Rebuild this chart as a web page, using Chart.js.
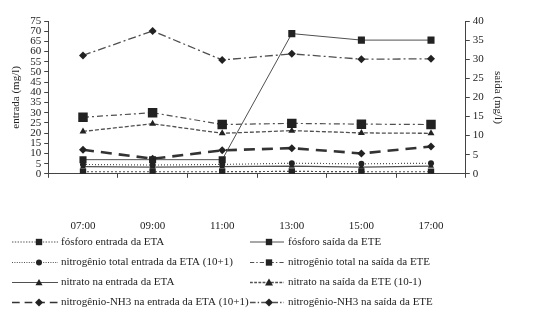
<!DOCTYPE html>
<html>
<head>
<meta charset="utf-8">
<script src="https://cdn.jsdelivr.net/npm/chart.js@4/dist/chart.umd.min.js"></script>
<style>
  html, body { margin: 0; padding: 0; background: #fff; }
  #wrap { width: 540px; height: 327px; }
</style>
</head>
<body>
<div id="wrap"><canvas id="grafico" width="540" height="327"></canvas></div>
<script>
        const horas = ['07:00', '09:00', '11:00', '13:00', '15:00', '17:00'];

        // eixo esquerdo (entrada, mg/l)
        const fosforoEntrada = [1.0, 1.0, 1.0, 1.2, 1.0, 1.0];
        const nitrogenioTotalEntrada = [4.6, 4.3, 4.6, 5.2, 4.9, 5.2];
        const nitratoEntrada = [3.5, 3.3, 3.5, 3.8, 3.3, 3.8];
        const nh3Entrada = [11.8, 7.4, 11.5, 12.6, 10.0, 13.4];

        // eixo direito (saida, mg/l)
        const fosforoSaida = [3.7, 3.7, 3.7, 36.7, 35.0, 35.0];
        const nitrogenioTotalSaida = [14.8, 16.0, 12.9, 13.2, 13.0, 12.9];
        const nitratoSaida = [11.1, 13.1, 10.6, 11.3, 10.7, 10.6];
        const nh3Saida = [31.0, 37.4, 29.8, 31.4, 30.0, 30.1];

        const ticksEntrada = [0, 5, 10, 15, 20, 25, 30, 35, 40, 45, 50, 55, 60, 65, 70, 75];
        const ticksSaida = [0, 5, 10, 15, 20, 25, 30, 35, 40];

        const fonte = "'Liberation Serif', 'DejaVu Serif', serif";
        const linha = '#505050';
        const marca = '#222';

        const series = [
            { label: 'fósforo entrada da ETA', data: fosforoEntrada, yAxisID: 'y', dash: [2, 2], width: 1.2, style: 'rect', r: 4.5, cor: linha },
            { label: 'fósforo saída da ETE', data: fosforoSaida, yAxisID: 'y1', dash: [], width: 1, style: 'rect', r: 5, cor: linha },
            { label: 'nitrogênio total entrada da ETA (10+1)', data: nitrogenioTotalEntrada, yAxisID: 'y', dash: [1, 2], width: 1.2, style: 'circle', r: 3, cor: linha },
            { label: 'nitrogênio total na saída da ETE', data: nitrogenioTotalSaida, yAxisID: 'y1', dash: [6, 3, 2, 3], width: 1.2, style: 'rect', r: 6.7, cor: linha },
            { label: 'nitrato na entrada da ETA', data: nitratoEntrada, yAxisID: 'y', dash: [], width: 1.2, style: 'triangle', r: 3.5, cor: linha },
            { label: 'nitrato na saída da ETE (10-1)', data: nitratoSaida, yAxisID: 'y1', dash: [4, 2], width: 1.3, style: 'triangle', r: 4, cor: linha },
            { label: 'nitrogênio-NH3 na entrada da ETA (10+1)', data: nh3Entrada, yAxisID: 'y', dash: [11, 7], width: 2.6, style: 'rectRot', r: 4, cor: '#333' },
            { label: 'nitrogênio-NH3 na saída da ETE', data: nh3Saida, yAxisID: 'y1', dash: [8, 3, 2, 3], width: 1.3, style: 'rectRot', r: 4, cor: linha }
        ];

        // desenha o marcador da legenda
        function marcador(ctx, estilo, x, y, r) {
            ctx.beginPath();
            if (estilo === 'rect') {
                const s = r * Math.SQRT1_2;
                ctx.rect(x - s, y - s, 2 * s, 2 * s);
            } else if (estilo === 'circle') {
                ctx.arc(x, y, r, 0, Math.PI * 2);
            } else if (estilo === 'triangle') {
                ctx.moveTo(x, y - r);
                ctx.lineTo(x + r, y + r * 0.75);
                ctx.lineTo(x - r, y + r * 0.75);
                ctx.closePath();
            } else {
                ctx.moveTo(x, y - r);
                ctx.lineTo(x + r, y);
                ctx.lineTo(x, y + r);
                ctx.lineTo(x - r, y);
                ctx.closePath();
            }
            ctx.fill();
        }

        const legendaColunas = {
            id: 'legendaColunas',
            afterDraw(chart) {
                const ctx = chart.ctx;
                const linhasY = [242, 262.5, 282.5, 302.5];
                const colunas = [
                    { x0: 12, x1: 58, m: 39, tx: 61 },
                    { x0: 250, x1: 284, m: 269, tx: 288 }
                ];
                ctx.save();
                chart.data.datasets.forEach(function(ds, i) {
                    const c = colunas[i % 2];
                    const y = linhasY[Math.floor(i / 2)];
                    ctx.strokeStyle = ds.borderColor;
                    ctx.lineWidth = Math.min(ds.borderWidth, 1.6);
                    ctx.setLineDash(ds.borderDash.length ? ds.borderDash.map(v => Math.max(1, v * 0.7)) : []);
                    ctx.beginPath();
                    ctx.moveTo(c.x0, y);
                    ctx.lineTo(c.x1, y);
                    ctx.stroke();
                    ctx.setLineDash([]);
                    ctx.fillStyle = marca;
                    marcador(ctx, ds.pointStyle, c.m, y, Math.min(ds.pointRadius, 4.5));
                    ctx.fillStyle = '#222';
                    ctx.font = '11px ' + fonte;
                    ctx.textBaseline = 'middle';
                    ctx.textAlign = 'left';
                    ctx.fillText(ds.label, c.tx, y);
                });
                ctx.restore();
            }
        };

        const graficoCtx = document.getElementById('grafico').getContext('2d');
        new Chart(graficoCtx, {
            type: 'line',
            data: {
                labels: horas,
                datasets: series.map(function(s) {
                    return {
                        label: s.label,
                        data: s.data,
                        yAxisID: s.yAxisID,
                        borderColor: s.cor,
                        borderWidth: s.width,
                        borderDash: s.dash,
                        fill: false,
                        tension: 0,
                        pointStyle: s.style,
                        pointRadius: s.r,
                        pointBackgroundColor: marca,
                        pointBorderColor: marca,
                        pointBorderWidth: 0
                    };
                })
            },
            options: {
                responsive: false,
                animation: false,
                layout: {
                    padding: { left: 6, right: 32, top: 21, bottom: 52 }
                },
                plugins: {
                    legend: { display: false },
                    tooltip: { enabled: false }
                },
                scales: {
                    x: {
                        offset: true,
                        border: { color: '#444', width: 1 },
                        grid: { display: true, offset: true, drawOnChartArea: false, tickLength: 4, color: '#444' },
                        ticks: { color: '#222', padding: 42, font: { family: fonte, size: 11 } }
                    },
                    y: {
                        position: 'left',
                        min: 0,
                        max: 75,
                        afterBuildTicks: function(axis) { axis.ticks = ticksEntrada.map(v => ({ value: v })); },
                        border: { color: '#444', width: 1 },
                        grid: { drawOnChartArea: false, tickLength: 4, color: '#444' },
                        ticks: { color: '#222', padding: 3, autoSkip: false, font: { family: fonte, size: 11 } },
                        title: { display: true, text: 'entrada (mg/l)', color: '#222', padding: 4, font: { family: fonte, size: 11 } }
                    },
                    y1: {
                        position: 'right',
                        min: 0,
                        max: 40,
                        afterBuildTicks: function(axis) { axis.ticks = ticksSaida.map(v => ({ value: v })); },
                        border: { color: '#444', width: 1 },
                        grid: { drawOnChartArea: false, tickLength: 4, color: '#444' },
                        ticks: { color: '#222', padding: 3, autoSkip: false, font: { family: fonte, size: 11 } },
                        title: { display: true, text: 'saida (mg/l)', color: '#222', padding: 4, font: { family: fonte, size: 11 } }
                    }
                }
            },
            plugins: [legendaColunas]
        });
</script>
</body>
</html>
